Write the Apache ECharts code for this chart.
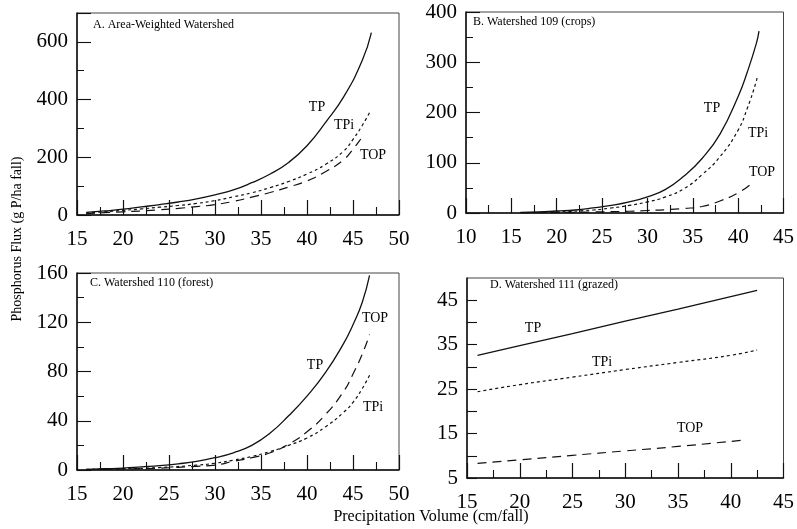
<!DOCTYPE html>
<html>
<head>
<meta charset="utf-8">
<script src="https://cdn.jsdelivr.net/npm/echarts@6/dist/echarts.min.js"></script>
<style>
html, body { margin: 0; padding: 0; background: #fff; }
#chart { width: 797px; height: 529px; }
</style>
</head>
<body>
<div id="chart"></div>
<script>
// A. area-weighted watershed
let a_tp_x = [16, 18, 20, 22, 24, 26, 28, 30, 32, 34, 36, 38, 40, 42, 44, 46, 47];
let a_tp_y = [9, 14, 20, 28, 36, 45, 56, 70, 87, 112, 142, 182, 240, 320, 410, 535, 632];
let a_tpi_x = [16, 18, 20, 22, 24, 26, 28, 30, 32, 34, 36, 38, 40, 42, 44, 45, 46, 46.8];
let a_tpi_y = [7, 11, 16, 21, 27, 33, 40, 50, 63, 77, 95, 116, 142, 175, 222, 262, 310, 355];
let a_top_x = [16, 18, 20, 22, 24, 26, 28, 30, 32, 34, 36, 38, 40, 42, 44, 45, 46, 46.2];
let a_top_y = [5, 8, 11, 14, 18, 23, 29, 36, 47, 62, 78, 97, 118, 150, 192, 228, 270, 280];

// B. watershed 109 (crops)
let b_tp_x = [16, 18, 20, 22, 24, 26, 28, 30, 32, 34, 36, 38, 40, 41, 42, 42.3];
let b_tp_y = [1, 2, 4, 6, 10, 15, 22, 32, 47, 73, 108, 157, 232, 280, 337, 362];
let b_tpi_x = [16, 20, 24, 26, 28, 30, 32, 34, 36, 38, 40, 41, 42, 42.1];
let b_tpi_y = [0.5, 2, 6, 10, 15, 22, 32, 48, 76, 112, 165, 208, 262, 272];
let b_top_x = [16, 20, 24, 28, 30, 32, 34, 36, 38, 40, 41.3];
let b_top_y = [0.3, 1, 2, 3.5, 5, 6.5, 9, 13, 24, 40, 56];

// C. watershed 110 (forest)
let c_tp_x = [16, 18, 20, 22, 24, 26, 28, 30, 32, 34, 36, 38, 40, 42, 44, 45, 46, 46.8];
let c_tp_y = [0.5, 1, 1.5, 2.5, 3.5, 5, 7, 10, 14, 20, 30, 44, 60, 79, 103, 118, 136, 158];
let c_tpi_x = [16, 20, 24, 28, 30, 32, 34, 36, 38, 40, 42, 44, 45, 46, 46.8];
let c_tpi_y = [0.5, 1, 2, 4, 5.5, 8, 11, 15, 20, 26, 35, 47, 55, 66, 77];
let c_top_x = [16, 20, 24, 28, 30, 32, 34, 36, 38, 40, 42, 44, 45, 46, 46.8];
let c_top_y = [0.3, 0.8, 1.5, 3, 4, 7, 10, 14, 21, 31, 45, 64, 78, 94, 110];

// D. watershed 111 (grazed)
let d_tp_x = [16, 20, 25, 30, 35, 40, 42.5];
let d_tp_y = [32.6, 34.8, 37.5, 40.3, 43, 45.8, 47.2];
let d_tpi_x = [16, 20, 25, 30, 35, 40, 42.5];
let d_tpi_y = [24.4, 26, 27.7, 29.4, 31, 32.6, 33.8];
let d_top_x = [16, 20, 25, 30, 35, 41.1];
let d_top_y = [8.3, 9.1, 10.1, 11.1, 12.1, 13.5];

let panel_titles = ["A. Area-Weighted Watershed", "B. Watershed 109 (crops)", "C. Watershed 110 (forest)", "D. Watershed 111 (grazed)"];
let x_ranges = [[15, 50], [10, 45], [15, 50], [15, 45]];
let y_ranges = [[0, 700, 200], [0, 400, 100], [0, 160, 40], [5, 50, 5]];

const FONT = "Liberation Serif";
const INK = "#111";

function pairs(xs, ys) {
    return xs.map((x, i) => [x, ys[i]]);
}

function curve(idx, name, xs, ys, dash) {
    return {
        name: name,
        type: "line",
        xAxisIndex: idx,
        yAxisIndex: idx,
        data: pairs(xs, ys),
        smooth: 0.5,
        showSymbol: false,
        silent: true,
        lineStyle: { color: INK, width: dash ? 1.2 : 1.3, type: dash || "solid" }
    };
}

let grids = [
    { left: 77, top: 13, width: 322, height: 202 },
    { left: 466, top: 12, width: 322, height: 201 },
    { left: 77, top: 273, width: 322, height: 197 },
    { left: 467, top: 278, width: 320, height: 200 }
].map(g => Object.assign(g, { show: true, borderColor: "#444", borderWidth: 1 }));

let xAxes = x_ranges.map((r, i) => ({
    type: "value",
    gridIndex: i,
    min: r[0],
    max: r[1],
    interval: 5,
    splitLine: { show: false },
    axisLine: { lineStyle: { color: INK, width: 1.5 } },
    axisTick: { inside: true, length: 15, lineStyle: { color: INK, width: 1.2 } },
    minorTick: { show: true, splitNumber: 2, length: 8, lineStyle: { color: INK, width: 1.1 } },
    axisLabel: { fontFamily: FONT, fontSize: 21, color: "#000", margin: 14 }
}));

let yAxes = y_ranges.map((r, i) => {
    let ax = {
        type: "value",
        gridIndex: i,
        min: r[0],
        max: r[1],
        interval: r[2],
        splitLine: { show: false },
        axisLine: { lineStyle: { color: INK, width: 1.5 } },
        axisTick: { inside: true, length: 14, lineStyle: { color: INK, width: 1.1 } },
        minorTick: { show: true, splitNumber: 2, length: 7, lineStyle: { color: INK, width: 1 } },
        axisLabel: { fontFamily: FONT, fontSize: 21, color: "#000", margin: 9, showMaxLabel: i === 1 || i === 2 }
    };
    if (i === 3) {
        // 5, 15, 25 ... labelled, tens as plain ticks
        ax.minorTick = { show: false };
        ax.axisTick.length = 10;
        ax.axisLabel.showMaxLabel = false;
        ax.axisLabel.formatter = v => ((v - 5) % 10 === 0 && v < 50) ? String(v) : "";
    }
    return ax;
});

let short_dash = [3, 3];
let long_dash = [9, 6];

let series = [
    curve(0, "TP", a_tp_x, a_tp_y),
    curve(0, "TPi", a_tpi_x, a_tpi_y, short_dash),
    curve(0, "TOP", a_top_x, a_top_y, long_dash),
    curve(1, "TP", b_tp_x, b_tp_y),
    curve(1, "TPi", b_tpi_x, b_tpi_y, short_dash),
    curve(1, "TOP", b_top_x, b_top_y, long_dash),
    curve(2, "TP", c_tp_x, c_tp_y),
    curve(2, "TPi", c_tpi_x, c_tpi_y, short_dash),
    curve(2, "TOP", c_top_x, c_top_y, long_dash),
    curve(3, "TP", d_tp_x, d_tp_y),
    curve(3, "TPi", d_tpi_x, d_tpi_y, short_dash),
    curve(3, "TOP", d_top_x, d_top_y, long_dash)
];

function txt(s, x, y, size, opts) {
    return Object.assign({
        type: "text",
        x: x,
        y: y,
        silent: true,
        style: {
            text: s,
            font: size + "px " + FONT,
            fill: "#000",
            textAlign: "left",
            textVerticalAlign: "middle"
        }
    }, opts || {});
}

function ctxt(s, x, y, size) {
    let t = txt(s, x, y, size);
    t.style.textAlign = "center";
    return t;
}

let graphics = [
    txt(panel_titles[0], 93, 25, 12),
    txt(panel_titles[1], 473, 22, 12),
    txt(panel_titles[2], 90, 283, 12),
    txt(panel_titles[3], 490, 285, 12),
    // curve labels
    ctxt("TP", 317, 107, 14), ctxt("TPi", 344, 125, 14), ctxt("TOP", 373, 155, 14),
    ctxt("TP", 712, 108, 14), ctxt("TPi", 758, 133, 14), ctxt("TOP", 762, 172, 14),
    ctxt("TP", 315, 365, 14), ctxt("TOP", 375, 318, 14), ctxt("TPi", 373, 407, 14),
    ctxt("TP", 533, 328, 14), ctxt("TPi", 602, 362, 14), ctxt("TOP", 690, 428, 14),
    // shared axis names
    ctxt("Precipitation Volume (cm/fall)", 431, 517, 16),
    Object.assign(ctxt("Phosphorus Flux (g P/ha fall)", 17, 239, 14), { rotation: Math.PI / 2 })
];

let chart = echarts.init(document.getElementById("chart"), null, { renderer: "canvas" });
chart.setOption({
    animation: false,
    backgroundColor: "#fff",
    grid: grids,
    xAxis: xAxes,
    yAxis: yAxes,
    series: series,
    graphic: graphics
});
</script>
</body>
</html>
